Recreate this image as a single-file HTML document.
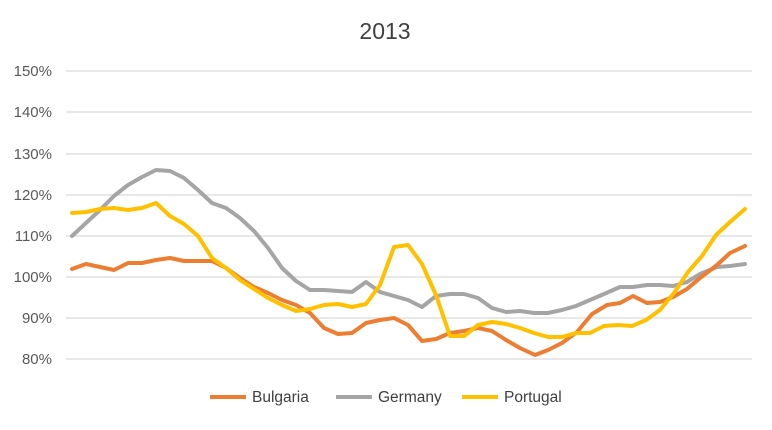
<!DOCTYPE html>
<html><head><style>body{margin:0;background:#fff}</style></head><body>
<svg width="772" height="425" xmlns="http://www.w3.org/2000/svg" font-family="Liberation Sans, sans-serif">
<rect width="772" height="425" fill="#fff"/>
<text x="385" y="39" text-anchor="middle" font-size="23" fill="#404040">2013</text>
<g stroke="#d9d9d9" stroke-width="1.3">
<line x1="66" x2="752" y1="71" y2="71"/><line x1="66" x2="752" y1="112" y2="112"/><line x1="66" x2="752" y1="154" y2="154"/><line x1="66" x2="752" y1="195" y2="195"/><line x1="66" x2="752" y1="236" y2="236"/><line x1="66" x2="752" y1="277" y2="277"/><line x1="66" x2="752" y1="318" y2="318"/><line x1="66" x2="752" y1="359" y2="359"/>
</g>
<g font-size="15" fill="#595959" text-anchor="end">
<text x="52" y="76">150%</text><text x="52" y="117">140%</text><text x="52" y="159">130%</text><text x="52" y="200">120%</text><text x="52" y="241">110%</text><text x="52" y="282">100%</text><text x="52" y="323">90%</text><text x="52" y="364">80%</text>
</g>
<g fill="none" stroke-width="4" stroke-linejoin="round" stroke-linecap="round">
<polyline stroke="#a5a5a5" points="72,236 86,223 100,210 114,196 128,185 142,177 156,170 170,171 184,178 198,190 212,203 226,208 240,218 254,231 268,248 282,268 296,281 310,290 324,290 338,291 352,292 366,282 380,292 394,296 408,300 422,307 436,296 450,294 464,294 478,298 492,308 506,312 520,311 534,313 548,313 562,310 576,306 590,300 604,294 620,287 633,287 647,285 660,285 673,286 687,282 700,274 717,267 730,266 745,264"/>
<polyline stroke="#ed7d31" points="72,269 86,264 100,267 114,270 128,263 142,263 156,260 170,258 184,261 198,261 212,261 226,268 240,278 254,287 268,293 282,300 296,305 310,313 324,328 338,334 352,333 366,323 380,320 394,318 408,325 422,341 436,339 450,333 464,331 478,328 492,331 506,340 520,348 535,355 548,350 562,343 577,332 592,314 607,305 620,303 633,296 647,303 660,302 673,297 687,289 700,278 717,265 730,253 745,246"/>
<polyline stroke="#ffc000" points="72,213 86,212 100,209 114,208 128,210 142,208 156,203 170,216 184,224 198,236 212,258 226,268 240,280 254,289 268,298 282,305 296,311 310,309 324,305 338,304 352,307 366,304 380,285 394,247 408,245 422,264 436,295 450,336 464,336 478,325 492,322 506,324 520,328 534,333 548,337 562,337 576,333 590,333 604,326 618,325 632,326 646,320 660,310 674,293 688,272 702,256 716,235 730,222 745,209"/>
</g>
<g font-size="15.5" fill="#404040">
<line x1="210" x2="246" y1="397" y2="397" stroke="#ed7d31" stroke-width="4"/><text x="252" y="402">Bulgaria</text>
<line x1="336" x2="372" y1="397" y2="397" stroke="#a5a5a5" stroke-width="4"/><text x="378" y="402">Germany</text>
<line x1="462" x2="498" y1="397" y2="397" stroke="#ffc000" stroke-width="4"/><text x="504" y="402">Portugal</text>
</g>
</svg>
</body></html>
